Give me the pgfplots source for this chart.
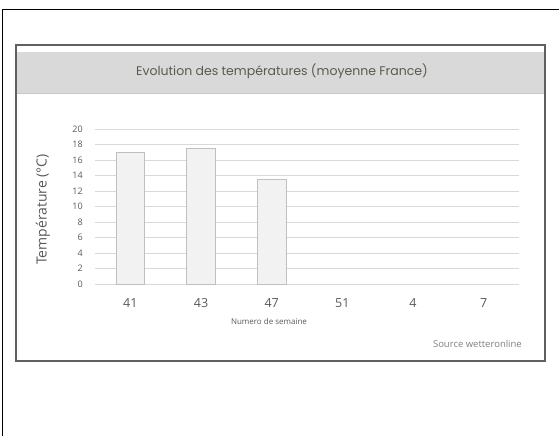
\documentclass[border=0pt]{standalone}
\usepackage{fontspec}
\setmainfont{Open Sans}
\newfontfamily\titlefont{Poppins}
\usepackage{pgfplots}
\pgfplotsset{compat=1.18}
\definecolor{txt}{HTML}{595959}
\definecolor{ttl}{HTML}{5A5A4C}
\definecolor{band}{HTML}{D9D9D9}
\definecolor{bandline}{HTML}{C8C8C8}
\definecolor{gridc}{HTML}{D9D9D9}
\definecolor{barfill}{HTML}{F2F2F2}
\definecolor{baredge}{HTML}{BFBFBF}
\definecolor{boxc}{HTML}{606060}
\definecolor{srcc}{HTML}{7F7F7F}
\begin{document}
\begin{tikzpicture}[x=1pt,y=1pt]
\path[use as bounding box] (0,0) rectangle (559,436);
\draw[black, line width=1pt] (2,0) -- (2,426) -- (559,426);
\draw[boxc, line width=1.2pt] (16,75) rectangle (545,391);
\fill[band] (16.6,343) rectangle (544.4,384);
\draw[bandline, line width=0.8pt] (16.6,343) -- (544.4,343);
\node[font=\titlefont\fontsize{12.5}{14}\selectfont, text=ttl] at (282,365) {Evolution des températures (moyenne France)};
\begin{axis}[
  at={(95pt,152pt)}, anchor=south west,
  scale only axis, width=424pt, height=155pt,
  xmin=-0.5, xmax=5.5, ymin=0, ymax=20,
  ytick={0,2,...,20},
  xtick={0,1,2,3,4,5},
  xticklabels={41,43,47,51,4,7},
  axis line style={draw=none},
  major tick length=0pt,
  ymajorgrids, grid style={gridc, line width=0.8pt},
  yticklabel style={font=\fontsize{9}{10}\selectfont, text=txt, anchor=east, xshift=-8.7pt},
  xticklabel style={font=\fontsize{12.5}{14}\selectfont, text=txt, anchor=base, yshift=-23.3pt},
  /pgf/number format/assume math mode=true,
  clip=false,
]
\addplot[ybar, bar width=28.5pt, fill=barfill, draw=baredge, line width=0.8pt] coordinates {(0,17.0) (1,17.5) (2,13.5)};
\end{axis}
\node[rotate=90, font=\fontsize{14}{16}\selectfont, text=txt] at (43,226.5) {Température (°C)};
\node[font=\fontsize{8}{9}\selectfont, text=txt] at (269,114.3) {Numero de semaine};
\node[font=\fontsize{9.5}{11}\selectfont, text=srcc, anchor=east, inner sep=0pt] at (522,92) {Source wetteronline};
\end{tikzpicture}
\end{document}
